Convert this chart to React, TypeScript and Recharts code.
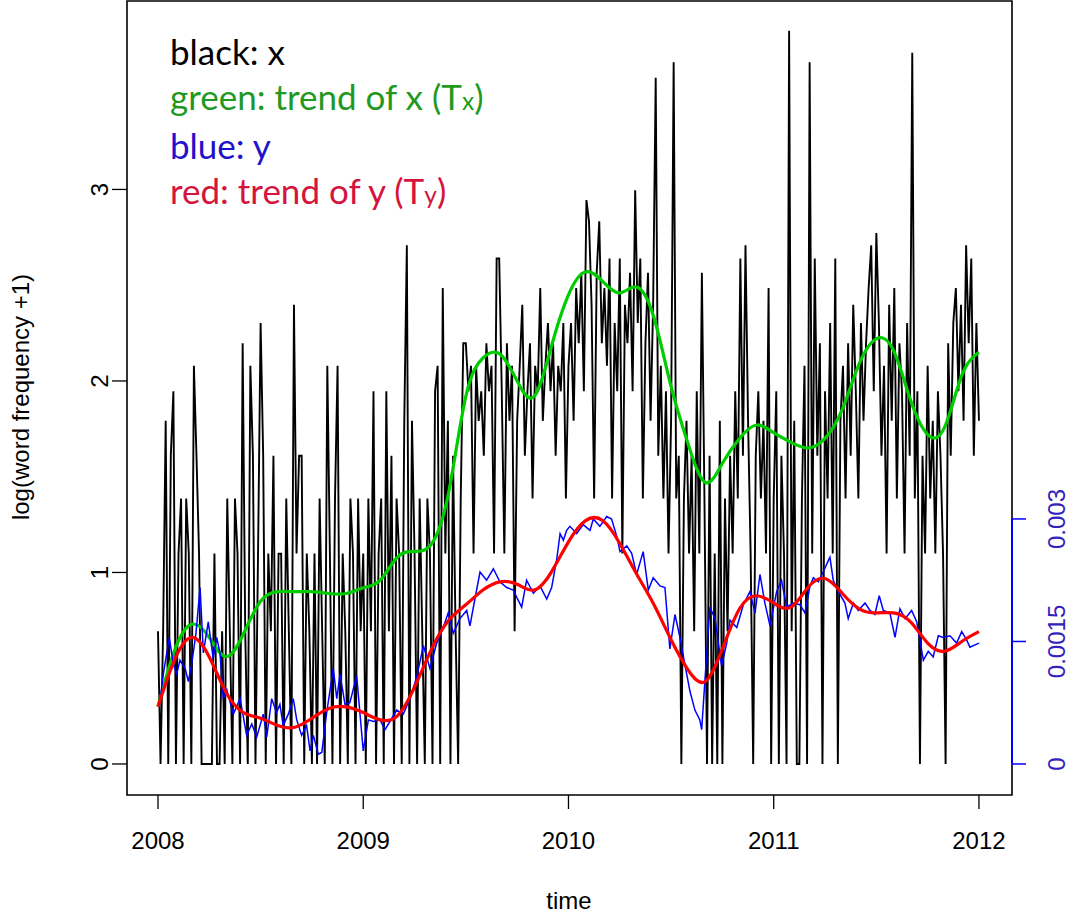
import { LineChart, Line, XAxis, YAxis, ReferenceArea, ReferenceLine } from "recharts";

// x axis ticks (years) and y ticks
const yearTicks = [2008, 2009, 2010, 2011, 2012];
const leftTicks = [0, 1, 2, 3];
const rightTicks = [0, 0.0015, 0.003];

// black: word counts of x, one value every 1/80 year
const counts2008 = [
  1, 0, 1, 5, 0, 4, 6, 0, 2, 3, 0, 3, 2, 0, 7, 4, 2, 0, 0, 0,
  0, 0, 2, 0, 0, 1, 0, 3, 1, 0, 3, 2, 0, 8, 1, 0, 7, 4, 0, 2,
  9, 4, 0, 2, 1, 4, 0, 2, 2, 0, 3, 1, 0, 10, 2, 4, 4, 0, 2, 1,
  0, 2, 0, 3, 1, 0, 7, 2, 0, 3, 7, 0, 2, 1, 0, 3, 2, 0, 3, 1,
];
const counts2009 = [
  2, 0, 3, 1, 6, 0, 2, 3, 0, 6, 1, 4, 0, 3, 2, 0, 5, 14, 0, 5,
  2, 0, 3, 1, 0, 3, 2, 0, 6, 7, 0, 11, 2, 5, 0, 4, 1, 0, 3, 8,
  8, 6, 7, 2, 7, 5, 6, 4, 8, 6, 7, 2, 13, 13, 6, 2, 8, 5, 7, 1,
  5, 7, 10, 4, 6, 8, 3, 7, 6, 11, 5, 7, 9, 6, 8, 4, 7, 6, 9, 3,
];
const counts2010 = [
  7, 9, 5, 11, 8, 12, 6, 18, 16, 10, 3, 12, 16, 8, 11, 7, 13, 3, 9, 6,
  13, 2, 10, 8, 12, 6, 19, 9, 13, 3, 8, 12, 5, 10, 35, 4, 7, 3, 6, 2,
  5, 38, 3, 4, 0, 3, 5, 2, 4, 1, 6, 2, 12, 3, 0, 4, 0, 2, 0, 5,
  0, 3, 1, 4, 2, 6, 3, 13, 4, 14, 5, 2, 0, 4, 6, 3, 5, 2, 11, 0,
];
const counts2011 = [
  3, 6, 0, 4, 2, 0, 45, 1, 5, 0, 0, 3, 7, 0, 38, 2, 13, 4, 8, 0,
  6, 3, 9, 2, 13, 0, 5, 7, 3, 8, 4, 10, 6, 3, 9, 5, 8, 11, 14, 6,
  15, 9, 4, 7, 2, 10, 5, 11, 3, 8, 6, 2, 9, 4, 40, 3, 6, 0, 4, 2,
  7, 3, 5, 2, 6, 4, 2, 0, 8, 4, 9, 11, 6, 10, 5, 14, 8, 13, 4, 9,
];
const countLast = 5;

// green: trend of x, monthly
const greenTrend = [
  0.3, 0.6, 0.73, 0.66, 0.56, 0.68, 0.85, 0.9, 0.9, 0.9, 0.89, 0.89,
  0.92, 0.96, 1.08, 1.11, 1.15, 1.42, 1.92, 2.12, 2.14, 2.0, 1.92, 2.18,
  2.45, 2.57, 2.52, 2.46, 2.49, 2.33, 1.97, 1.67, 1.47, 1.57, 1.7, 1.77,
  1.73, 1.68, 1.65, 1.7, 1.85, 2.09, 2.22, 2.16, 1.9, 1.72, 1.76, 2.03,
  2.15,
];

// blue: y (units of 1e-4), time offset from 2008 in years
const blueT = [
  0.006, 0.026, 0.055, 0.075, 0.091, 0.107, 0.132, 0.148, 0.164, 0.185,
  0.205, 0.221, 0.245, 0.269, 0.286, 0.302, 0.318, 0.335, 0.367, 0.4,
  0.432, 0.457, 0.481, 0.513, 0.53, 0.554, 0.578, 0.594, 0.61, 0.635,
  0.659, 0.676, 0.7, 0.724, 0.741, 0.757, 0.781, 0.798, 0.822, 0.854,
  0.871, 0.887, 0.911, 0.935, 0.968, 1.0, 1.025, 1.049, 1.082, 1.106,
  1.13, 1.163, 1.195, 1.228, 1.26, 1.293, 1.325, 1.358, 1.39, 1.414,
  1.439, 1.471, 1.504, 1.52, 1.544, 1.569, 1.601, 1.634, 1.666, 1.699,
  1.731, 1.748, 1.772, 1.796, 1.829, 1.861, 1.894, 1.918, 1.943, 1.959,
  1.975, 1.991, 2.007, 2.04, 2.072, 2.105, 2.121, 2.153, 2.186, 2.21,
  2.235, 2.251, 2.284, 2.308, 2.332, 2.364, 2.389, 2.413, 2.446, 2.47,
  2.494, 2.519, 2.543, 2.567, 2.592, 2.616, 2.64, 2.649, 2.665, 2.689,
  2.714, 2.746, 2.771, 2.787, 2.82, 2.852, 2.884, 2.909, 2.933, 2.957,
  2.982, 3.014, 3.038, 3.063, 3.095, 3.128, 3.152, 3.177, 3.193, 3.217,
  3.241, 3.266, 3.274, 3.29, 3.315, 3.347, 3.363, 3.388, 3.412, 3.445,
  3.469, 3.493, 3.514, 3.534, 3.566, 3.591, 3.615, 3.64, 3.672, 3.697,
  3.729, 3.753, 3.777, 3.802, 3.826, 3.859, 3.891, 3.916, 3.94, 3.956,
  4.0,
];
const blueY = [
  7.0, 11.0, 15.5, 12.2, 11.0, 12.7, 11.7, 10.1, 12.2, 16.0,
  21.6, 13.6, 17.4, 12.9, 15.5, 13.6, 8.0, 9.1, 6.1, 8.0,
  3.5, 4.9, 3.3, 6.1, 3.3, 8.0, 6.3, 7.3, 4.7, 6.1,
  8.0, 5.4, 3.5, 4.7, 1.6, 3.5, 1.2, 1.4, 6.3, 11.7,
  8.0, 11.0, 7.3, 7.5, 10.8, 1.6, 5.4, 5.2, 5.4, 4.2,
  5.2, 6.6, 6.1, 8.0, 10.6, 14.5, 11.7, 14.8, 16.7, 18.5,
  16.0, 17.8, 18.8, 16.9, 20.2, 23.5, 22.5, 23.9, 22.3, 21.6,
  21.3, 20.4, 19.2, 22.5, 20.9, 21.8, 20.2, 21.6, 25.1, 28.2,
  27.4, 28.6, 29.1, 28.2, 29.3, 28.6, 30.0, 29.1, 30.3, 30.0,
  27.9, 26.0, 26.7, 25.8, 23.2, 26.0, 21.3, 22.8, 21.8, 21.6,
  14.1, 18.3, 15.5, 12.2, 8.9, 6.6, 5.4, 4.2, 10.3, 19.2,
  17.8, 12.0, 14.8, 17.6, 16.7, 19.5, 21.1, 18.5, 23.2, 19.7,
  16.9, 21.1, 22.5, 19.2, 19.7, 19.5, 18.5, 21.8, 22.8, 22.3,
  23.5, 24.9, 25.3, 22.5, 21.1, 19.7, 17.8, 19.7, 18.8, 19.7,
  18.8, 18.3, 20.6, 18.8, 18.5, 15.5, 19.0, 17.8, 18.8, 17.4,
  12.7, 13.8, 13.1, 15.7, 15.5, 15.7, 14.8, 16.2, 15.2, 14.3,
  14.8,
];

// red: trend of y (units of 1e-4), monthly
const redTrend = [
  7.0, 12.9, 15.5, 13.1, 8.7, 6.3, 5.6, 4.7, 4.5, 5.6, 6.8, 7.0,
  6.3, 5.4, 5.9, 9.4, 14.1, 17.6, 19.5, 21.3, 22.3, 22.0, 21.3, 23.5,
  27.2, 29.8, 29.8, 27.0, 23.2, 19.5, 15.2, 11.5, 10.1, 14.1, 19.0, 20.6,
  19.7, 19.2, 21.6, 22.7, 20.9, 19.0, 18.5, 18.5, 17.4, 14.8, 13.8, 15.0,
  16.2,
];

const blackData = [...counts2008, ...counts2009, ...counts2010, ...counts2011, countLast].map(
  (n, i) => ({ t: 2008 + i / 80, v: Math.log(n + 1) })
);
const greenData = greenTrend.map((v, i) => ({ t: 2008 + i / 12, v }));
const blueData = blueT.map((dt, i) => ({ t: 2008 + dt, v: blueY[i] / 1e4 }));
const redData = redTrend.map((v, i) => ({ t: 2008 + i / 12, v: v / 1e4 }));

const X_DOMAIN = [2007.849, 2012.161];
const LEFT_DOMAIN = [-0.162, 3.984];
// right axis: 0.003 sits at 1.2794 on the left scale
const RATIO = 0.003 / 1.2794;
const RIGHT_DOMAIN = [LEFT_DOMAIN[0] * RATIO, LEFT_DOMAIN[1] * RATIO];

const axisFont = "'Liberation Sans', Arial, sans-serif";
const axisSize = 24;
const rightColor = "#3322bb";

const XTick = (props: any) => (
  <text x={props.x} y={849} textAnchor="middle" fontSize={axisSize} fontFamily={axisFont} fill="#000">
    {props.payload.value}
  </text>
);

const LeftTick = (props: any) => (
  <text
    x={108}
    y={props.y}
    transform={`rotate(-90 108 ${props.y})`}
    textAnchor="middle"
    fontSize={axisSize}
    fontFamily={axisFont}
    fill="#000"
  >
    {props.payload.value}
  </text>
);

const RightTick = (props: any) => (
  <text
    x={1065}
    y={props.y}
    transform={`rotate(-90 1065 ${props.y})`}
    textAnchor="middle"
    fontSize={axisSize}
    fontFamily={axisFont}
    fill={rightColor}
  >
    {String(props.payload.value)}
  </text>
);

export default function App() {
  return (
    <div style={{ position: "absolute", left: 0, top: 0, width: 1075, height: 918, background: "#fff" }}>
      <LineChart width={1075} height={918} margin={{ top: 1, right: 0, bottom: 0, left: 0 }}>
        <XAxis
          type="number"
          dataKey="t"
          domain={X_DOMAIN}
          ticks={yearTicks}
          interval={0}
          allowDataOverflow
          height={123}
          axisLine={false}
          tickSize={14}
          tickLine={{ stroke: "#000", strokeWidth: 1.3 }}
          tick={XTick}
          label={{
            content: () => (
              <text x={569} y={909} textAnchor="middle" fontSize={axisSize} fontFamily={axisFont} fill="#000">
                time
              </text>
            ),
          }}
        />
        <YAxis
          yAxisId="left"
          type="number"
          domain={LEFT_DOMAIN}
          ticks={leftTicks}
          interval={0}
          allowDataOverflow
          width={127}
          axisLine={false}
          tickSize={15}
          tickLine={{ stroke: "#000", strokeWidth: 1.3 }}
          tick={LeftTick}
          label={{
            content: () => (
              <text
                x={29}
                y={397}
                transform="rotate(-90 29 397)"
                textAnchor="middle"
                fontSize={axisSize}
                fontFamily={axisFont}
                fill="#000"
              >
                log(word frequency +1)
              </text>
            ),
          }}
        />
        <YAxis
          yAxisId="right"
          orientation="right"
          type="number"
          domain={RIGHT_DOMAIN}
          ticks={rightTicks}
          interval={0}
          allowDataOverflow
          width={63}
          axisLine={false}
          tickSize={14}
          stroke="#0000ff"
          tickLine={{ stroke: "#0000ff", strokeWidth: 1.5 }}
          tick={RightTick}
        />
        <ReferenceLine
          yAxisId="right"
          segment={[
            { x: X_DOMAIN[1], y: 0 },
            { x: X_DOMAIN[1], y: 0.003 },
          ]}
          stroke="#0000ff"
          strokeWidth={2}
          ifOverflow="visible"
        />
        <Line yAxisId="left" data={blackData} dataKey="v" type="linear" stroke="#000" strokeWidth={1.9} dot={false} isAnimationActive={false} />
        <Line yAxisId="left" data={greenData} dataKey="v" type="natural" stroke="#00cc00" strokeWidth={3.2} dot={false} isAnimationActive={false} />
        <Line yAxisId="right" data={blueData} dataKey="v" type="linear" stroke="#0000ff" strokeWidth={1.5} dot={false} isAnimationActive={false} />
        <Line yAxisId="right" data={redData} dataKey="v" type="natural" stroke="#ff0000" strokeWidth={3.2} dot={false} isAnimationActive={false} />
        <ReferenceArea
          yAxisId="left"
          x1={X_DOMAIN[0]}
          x2={X_DOMAIN[1]}
          y1={LEFT_DOMAIN[0]}
          y2={LEFT_DOMAIN[1]}
          fill="none"
          stroke="#000"
          strokeWidth={1.6}
          ifOverflow="visible"
        />
      </LineChart>
      <div
        style={{
          position: "absolute",
          left: 170,
          top: 29,
          fontFamily: "Lato, sans-serif",
          fontSize: 35,
          lineHeight: "45px",
          whiteSpace: "nowrap",
        }}
      >
        <div style={{ color: "#000" }}>black: x</div>
        <div style={{ color: "#1f9a1f" }}>
          green: trend of x (T<span style={{ fontSize: "0.7em" }}>x</span>)
        </div>
        <div style={{ color: "#2211cc" }}>blue: y</div>
        <div style={{ color: "#d4143c" }}>
          red: trend of y (T<span style={{ fontSize: "0.7em" }}>y</span>)
        </div>
      </div>
    </div>
  );
}
